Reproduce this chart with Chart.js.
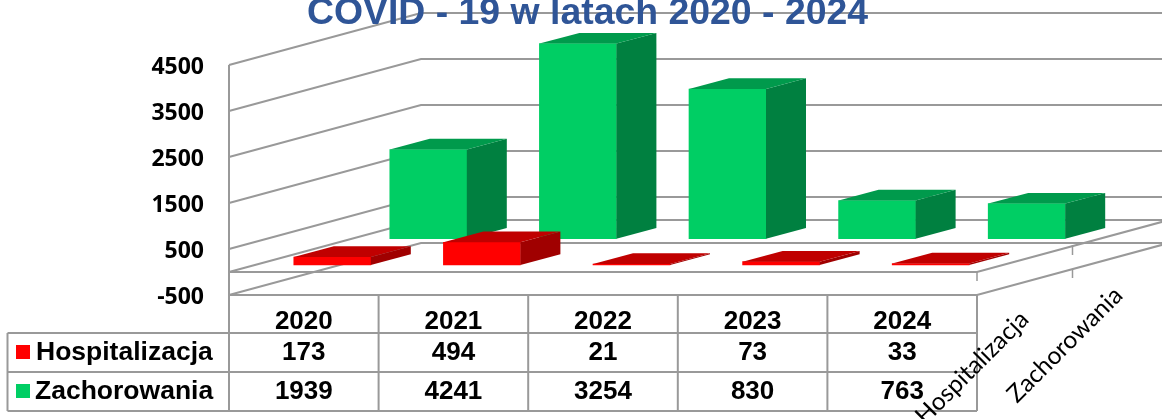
<!DOCTYPE html>
<html>
<head>
<meta charset="utf-8">
<title>COVID - 19 w latach 2020 - 2024</title>
<script src="https://cdn.jsdelivr.net/npm/chart.js@4"></script>
<style>
  html, body { margin: 0; padding: 0; background: #fff; overflow: hidden; }
  canvas { display: block; }
</style>
</head>
<body>
<canvas id="Chart" width="1162" height="419"></canvas>
<script>
const titleText = 'COVID - 19 w latach 2020 - 2024';
const years = ['2020', '2021', '2022', '2023', '2024'];
const hospitalizacja = [173, 494, 21, 73, 33];
const zachorowania = [1939, 4241, 3254, 830, 763];
const seriesNames = ['Hospitalizacja', 'Zachorowania'];
const tickMin = -500;
const tickMax = 4500;
const tickStep = 1000;

const gridColor = '#999999';
const tableFont = 'bold 26px "Liberation Sans"';
const nameFont = 'bold 26.5px "Liberation Sans"';

// fake 3D: how far the back wall and the bars are pushed
const wallDepth = { x: 192, y: -52 };
const barDepth = { x: 40, y: -10.7 };
const seriesShift = [{ x: 28.5, y: -7 }, { x: 124.5, y: -33.3 }];
const topColors = ['#c00000', '#009a4c'];
const sideColors = ['#a00000', '#008040'];

function line(ctx, pts, color, width) {
  ctx.beginPath();
  ctx.moveTo(pts[0][0], pts[0][1]);
  for (let i = 1; i < pts.length; i++) ctx.lineTo(pts[i][0], pts[i][1]);
  ctx.strokeStyle = color;
  ctx.lineWidth = width;
  ctx.stroke();
}

function face(ctx, pts, color) {
  ctx.beginPath();
  ctx.moveTo(pts[0][0], pts[0][1]);
  for (let i = 1; i < pts.length; i++) ctx.lineTo(pts[i][0], pts[i][1]);
  ctx.closePath();
  ctx.fillStyle = color;
  ctx.fill();
}

const box3d = {
  id: 'box3d',
  beforeDatasetsDraw(chart) {
    const { ctx, chartArea: a, scales: { y } } = chart;
    const levels = y.ticks.map(t => t.value).concat(0);
    ctx.save();
    levels.forEach(v => {
      const py = y.getPixelForValue(v);
      const pts = [[a.left, py], [a.left + wallDepth.x, py + wallDepth.y]];
      pts.push([a.right + wallDepth.x, py + wallDepth.y]);
      line(ctx, pts, gridColor, 2);
    });
    // floor edges
    [0, tickMin].forEach(v => {
      const py = y.getPixelForValue(v);
      line(ctx, [[a.left, py], [a.right, py], [a.right + wallDepth.x, py + wallDepth.y]], gridColor, 2);
    });
    line(ctx, [[a.left, a.top], [a.left, a.bottom]], gridColor, 2);
    // small ticks of the series axis
    line(ctx, [[a.right, 272], [a.right, 281]], gridColor, 1.5);
    line(ctx, [[1072.5, 245], [1072.5, 255]], gridColor, 1.5);
    line(ctx, [[1072.5, 270], [1072.5, 278]], gridColor, 1.5);
    ctx.restore();
  },
  beforeDatasetDraw(chart, args) {
    const s = seriesShift[args.index];
    chart.ctx.save();
    chart.ctx.translate(s.x, s.y);
  },
  afterDatasetDraw(chart, args) {
    const ctx = chart.ctx;
    args.meta.data.forEach(bar => {
      const l = bar.x - bar.width / 2;
      const r = bar.x + bar.width / 2;
      const d = barDepth;
      face(ctx, [[r, bar.y], [r + d.x, bar.y + d.y], [r + d.x, bar.base + d.y], [r, bar.base]], sideColors[args.index]);
      face(ctx, [[l, bar.y], [l + d.x, bar.y + d.y], [r + d.x, bar.y + d.y], [r, bar.y]], topColors[args.index]);
    });
    ctx.restore();
  },
  afterDraw(chart) {
    const { ctx, chartArea: a, scales: { x } } = chart;
    const rows = [333, 372, 411];
    const tableLeft = 7.5;
    const colW = (a.right - a.left) / years.length;
    ctx.save();

    // table grid
    line(ctx, [[tableLeft, rows[0]], [a.right, rows[0]]], gridColor, 2);
    line(ctx, [[tableLeft, rows[1]], [a.right, rows[1]]], gridColor, 2);
    line(ctx, [[tableLeft, rows[2]], [a.right, rows[2]]], gridColor, 2);
    line(ctx, [[tableLeft, rows[0]], [tableLeft, rows[2]]], gridColor, 2);
    for (let i = 0; i <= years.length; i++) {
      const px = a.left + i * colW;
      line(ctx, [[px, a.bottom], [px, rows[2]]], gridColor, 2);
    }

    // table values and legend keys
    ctx.font = tableFont;
    ctx.fillStyle = '#000';
    ctx.textBaseline = 'middle';
    ctx.textAlign = 'center';
    years.forEach((yr, i) => {
      const px = x.getPixelForValue(i);
      ctx.fillText(String(hospitalizacja[i]), px, 353);
      ctx.fillText(String(zachorowania[i]), px, 392);
    });
    ctx.textAlign = 'left';
    ctx.font = nameFont;
    ctx.fillText(seriesNames[0], 36, 353);
    ctx.fillText(seriesNames[1], 35, 392);
    ctx.fillStyle = chart.data.datasets[0].backgroundColor;
    ctx.fillRect(16, 345, 14, 14);
    ctx.fillStyle = chart.data.datasets[1].backgroundColor;
    ctx.fillRect(16, 384, 14, 14);

    // series axis labels
    ctx.fillStyle = '#000';
    ctx.font = '24.5px "Lato"';
    ctx.textAlign = 'right';
    ctx.textBaseline = 'alphabetic';
    [[1030, 321], [1124, 297]].forEach((p, i) => {
      ctx.save();
      ctx.translate(p[0], p[1]);
      ctx.rotate(-Math.PI / 4);
      ctx.fillText(seriesNames[i], 0, 0);
      ctx.restore();
    });

    // title
    ctx.font = 'bold 37.4px "Liberation Sans"';
    ctx.fillStyle = '#2f5597';
    ctx.textAlign = 'center';
    ctx.fillText(titleText, 587.5, 23.5);
    ctx.restore();
  }
};

new Chart(document.getElementById('Chart').getContext('2d'), {
  type: 'bar',
  plugins: [box3d],
  data: {
    labels: years,
    datasets: [
      { label: seriesNames[0], data: hospitalizacja, backgroundColor: '#ff0000', barThickness: 77, grouped: false, clip: false },
      { label: seriesNames[1], data: zachorowania, backgroundColor: '#00ce64', barThickness: 77, grouped: false, clip: false }
    ]
  },
  options: {
    responsive: false,
    animation: false,
    layout: { padding: { top: 65, right: 185, left: 0, bottom: 0 } },
    plugins: { legend: { display: false }, tooltip: { enabled: false }, title: { display: false } },
    scales: {
      x: {
        afterFit: s => { s.height = 124; },
        grid: { display: false, drawTicks: false },
        border: { display: false },
        ticks: { color: '#000', padding: 11, maxRotation: 0, font: { family: 'Liberation Sans', size: 26, weight: 'bold' } }
      },
      y: {
        min: tickMin,
        max: tickMax,
        afterFit: s => { s.width = 229; },
        grid: { display: false, drawTicks: false },
        border: { display: false },
        ticks: {
          stepSize: tickStep,
          color: '#000',
          padding: 25,
          labelOffset: 2,
          callback: v => String(v),
          font: { family: 'Open Sans', size: 23, weight: 'bold' }
        }
      }
    }
  }
});
</script>
</body>
</html>
